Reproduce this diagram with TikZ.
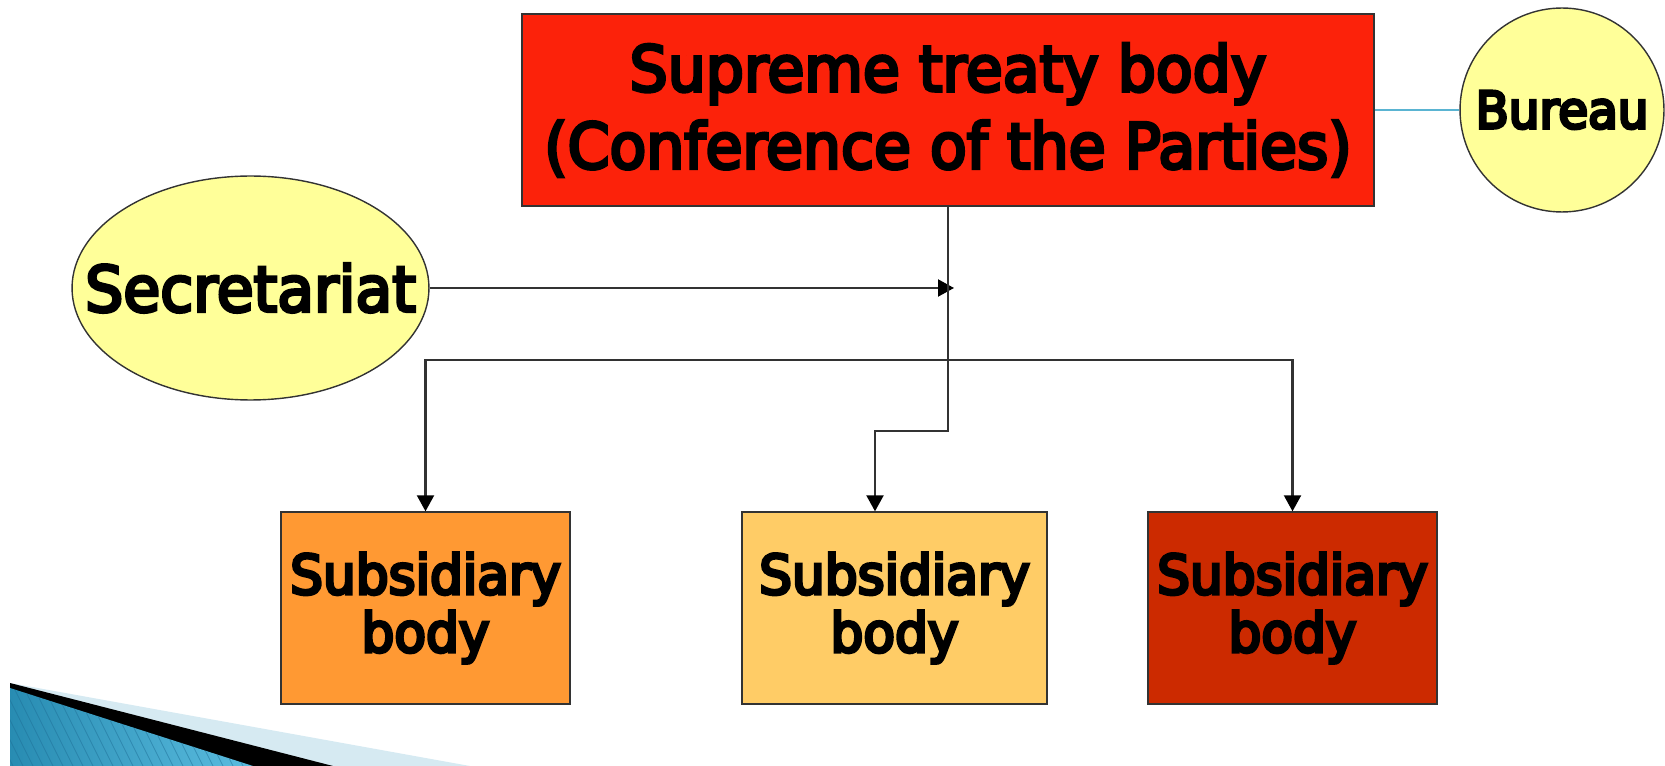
\documentclass[tikz,border=0pt]{standalone}
\usepackage{fontspec}
\newfontfamily\dfont{DejaVu Sans}[FakeStretch=0.95]
\newcommand{\thicktext}{\special{pdf:literal direct 2 Tr 1.8 w}}
\usetikzlibrary{arrows.meta,shapes.geometric}
\definecolor{topred}{RGB}{252,34,10}
\definecolor{paleyellow}{RGB}{255,255,153}
\definecolor{suborange}{RGB}{255,153,51}
\definecolor{subgold}{RGB}{255,204,102}
\definecolor{subrust}{RGB}{204,42,0}
\definecolor{linkblue}{RGB}{90,180,210}
\definecolor{decolight}{RGB}{214,234,242}
\definecolor{decoblueA}{RGB}{40,140,178}
\definecolor{decoblueB}{RGB}{92,190,225}
\definecolor{stripeblue}{RGB}{30,110,150}
\definecolor{linegray}{RGB}{50,50,50}
\tikzset{
  boxstyle/.style={draw=black!80, line width=0.8pt, rectangle, inner sep=0pt, align=center, font=\dfont\fontsize{31}{33}\selectfont\thicktext},
  topstyle/.style={boxstyle, font=\dfont\fontsize{36}{44}\selectfont\thicktext},
  ovalstyle/.style={draw=black!80, line width=0.8pt, fill=paleyellow, inner sep=0pt, align=center},
  labelstyle/.style={inner sep=0pt, align=center},
  conn/.style={draw=linegray, line width=1.2pt, -{Triangle[length=0.32cm,width=0.34cm,color=black]}},
  stripe/.style={draw=stripeblue, line width=0.5pt, opacity=0.5}
}
\begin{document}
\begin{tikzpicture}[x=0.02cm,y=-0.02cm]
\useasboundingbox (0,0) rectangle (1665,766);

% decoration bottom left
\fill[decolight] (10,683) -- (470,766) -- (10,766) -- cycle;
\fill[black] (10,683) -- (333,766) -- (10,766) -- cycle;
\begin{scope}
  \clip (10,688) -- (253,766) -- (10,766) -- cycle;
  \shade[left color=decoblueA, right color=decoblueB] (10,680) rectangle (260,766);
  \foreach \i in {-12,...,26} \draw[stripe] (\i*10,680) -- ++(45,90);
\end{scope}

% nodes
\node[topstyle, fill=topred, minimum width=17.04cm, minimum height=3.84cm] (top) at (948,110)
  {Supreme treaty body\\(Conference of the Parties)};
\node[ovalstyle, circle, minimum size=4.08cm, font=\dfont\fontsize{29}{33}\selectfont\thicktext] (bureau) at (1562,110) {Bureau};
\node[ovalstyle, ellipse, minimum width=7.14cm, minimum height=4.48cm] (sec) at (250.5,288) {};
\node[labelstyle, font=\dfont\fontsize{36}{40}\selectfont\thicktext] (sectext) at (sec.center) {Secretariat};

\node[boxstyle, fill=suborange, minimum width=5.78cm, minimum height=3.84cm] (sub1) at (425.5,608) {Subsidiary\\body};
\node[boxstyle, fill=subgold, minimum width=6.1cm, minimum height=3.84cm] (sub2) at (894.5,608) {Subsidiary\\body};
\node[boxstyle, fill=subrust, minimum width=5.78cm, minimum height=3.84cm] (sub3) at (1292.5,608) {Subsidiary\\body};

% connectors
\draw[draw=linkblue, line width=1pt] (top.east) -- (bureau.west);
\coordinate (tip) at (954,288);
\draw[conn] (sec.east) -- (tip);
\coordinate (bend) at (875,431);
\draw[conn] (top.south) |- (bend) -- (bend |- sub2.north);
\coordinate (hub) at (948,360);
\draw[conn] (hub) -| (sub1.north);
\draw[conn] (hub) -| (sub3.north);
\end{tikzpicture}
\end{document}
